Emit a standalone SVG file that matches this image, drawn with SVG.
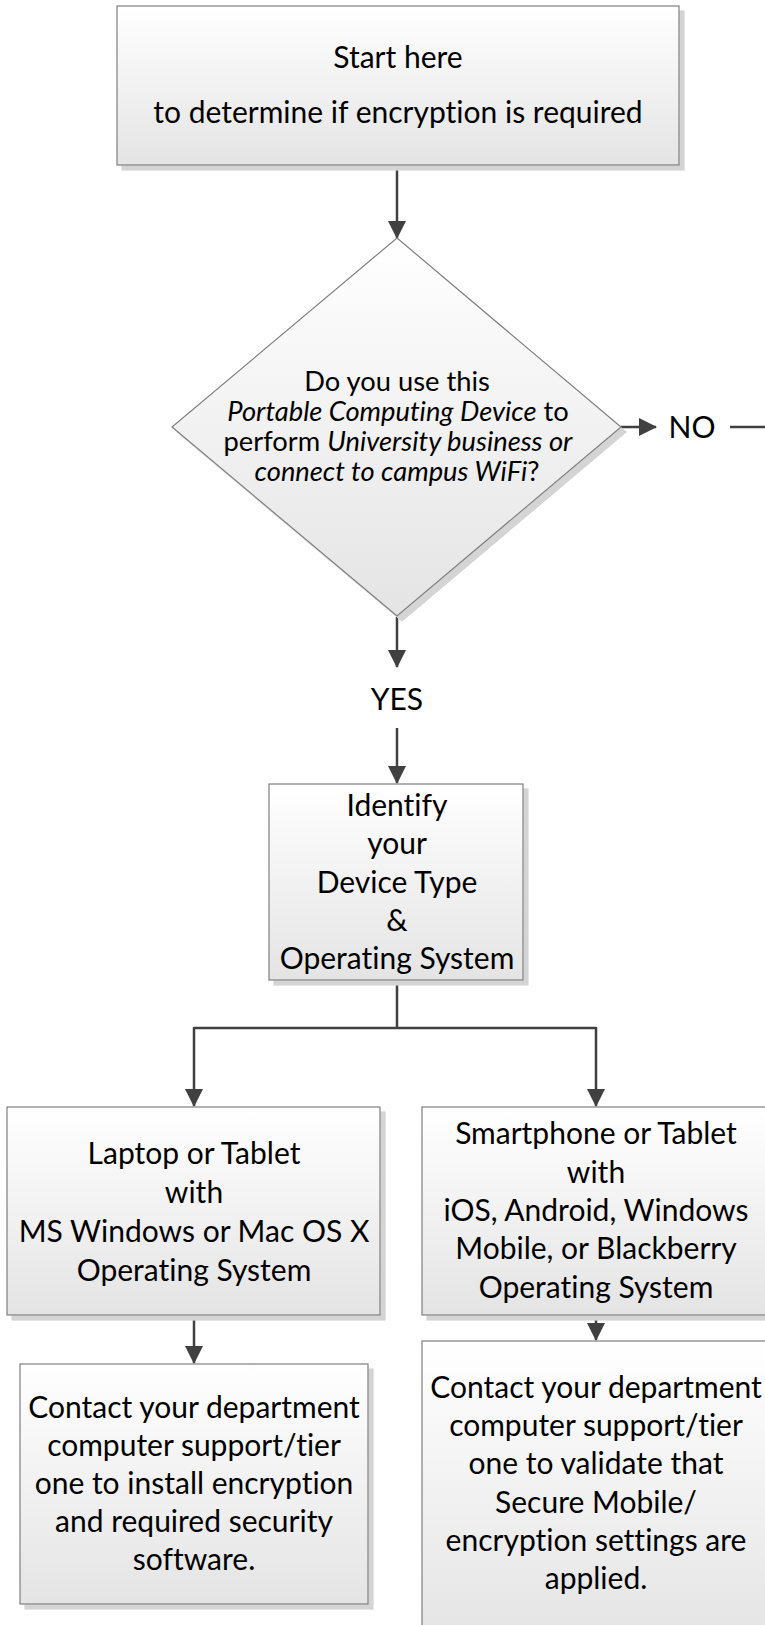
<svg xmlns="http://www.w3.org/2000/svg" width="765" height="1625" viewBox="0 0 765 1625">
<defs>
<linearGradient id="g" x1="0" y1="0" x2="0" y2="1">
<stop offset="0" stop-color="#ffffff"/>
<stop offset="1" stop-color="#e4e4e4"/>
</linearGradient>
<marker id="ah" viewBox="0 0 18 18" refX="17" refY="9" markerWidth="7.2" markerHeight="7.2" markerUnits="strokeWidth" orient="auto">
<path d="M0,0 L18,9 L0,18 Z" fill="#404040"/>
</marker>
<filter id="sh" x="-5%" y="-5%" width="115%" height="115%">
<feOffset dx="5" dy="5" in="SourceAlpha" result="o"/>
<feFlood flood-color="#d4d4d4"/>
<feComposite in2="o" operator="in" result="s"/>
<feMerge><feMergeNode in="s"/><feMergeNode in="SourceGraphic"/></feMerge>
</filter>
</defs>
<style>
.box{fill:url(#g);stroke:#7f7f7f;stroke-width:1.2;filter:url(#sh)}
.t{font-family:Lato,"Open Sans","Liberation Sans",sans-serif;font-size:30px;fill:#000;text-anchor:middle;font-variant-ligatures:none}
.d{font-size:27.3px}
.c{fill:none;stroke:#404040;stroke-width:2.5}
.arr{marker-end:url(#ah)}
</style>
<g id="connectors">
<path class="c arr" d="M397,166 V238"/>
<path class="c arr" d="M621,427 H656"/>
<path class="c" d="M730,427 H765"/>
<path class="c arr" d="M397,617 V667"/>
<path class="c arr" d="M397,728 V783"/>
<path class="c" d="M397,980 V1028 M194,1028 H596"/>
<path class="c arr" d="M194,1027 V1106"/>
<path class="c arr" d="M596,1027 V1106"/>
<path class="c arr" d="M194,1316 V1363"/>
<path class="c arr" d="M596,1316 V1340"/>
</g>
<g id="start">
<rect class="box" x="117" y="6" width="562" height="159"/>
<text class="t" x="398" y="68">Start here</text>
<text class="t" x="398" y="123">to determine if encryption is required</text>
</g>
<g id="decision">
<polygon class="box" points="397,238 621,427 397,616 172,427"/>
<text class="t d" x="397" y="391">Do you use this</text>
<text class="t d" x="398" y="421"><tspan font-style="italic">Portable Computing Device</tspan> to</text>
<text class="t d" x="398" y="451">perform <tspan font-style="italic">University business or</tspan></text>
<text class="t d" x="397" y="481"><tspan font-style="italic">connect to campus WiFi</tspan>?</text>
</g>
<g id="no-label">
<text class="t" x="692" y="438">NO</text>
</g>
<g id="yes-label">
<text class="t" x="397" y="710">YES</text>
</g>
<g id="identify">
<rect class="box" x="269" y="784" width="254" height="196"/>
<text class="t" x="397" y="816">Identify</text>
<text class="t" x="397" y="854">your</text>
<text class="t" x="397" y="893">Device Type</text>
<text class="t" x="397" y="931">&amp;</text>
<text class="t" x="397" y="969">Operating System</text>
</g>
<g id="laptop">
<rect class="box" x="7" y="1107" width="373" height="208"/>
<text class="t" x="194" y="1164">Laptop or Tablet</text>
<text class="t" x="194" y="1203">with</text>
<text class="t" x="194" y="1242">MS Windows or Mac OS X</text>
<text class="t" x="194" y="1281">Operating System</text>
</g>
<g id="smartphone">
<rect class="box" x="422" y="1107" width="360" height="208"/>
<text class="t" x="596" y="1144">Smartphone or Tablet</text>
<text class="t" x="596" y="1183">with</text>
<text class="t" x="596" y="1221">iOS, Android, Windows</text>
<text class="t" x="596" y="1259">Mobile, or Blackberry</text>
<text class="t" x="596" y="1298">Operating System</text>
</g>
<g id="laptop-action">
<rect class="box" x="20" y="1364" width="348" height="240"/>
<text class="t" x="194" y="1418">Contact your department</text>
<text class="t" x="194" y="1456">computer support/tier</text>
<text class="t" x="194" y="1494">one to install encryption</text>
<text class="t" x="194" y="1532">and required security</text>
<text class="t" x="194" y="1570">software.</text>
</g>
<g id="smartphone-action">
<rect class="box" x="422" y="1341" width="360" height="300"/>
<text class="t" x="596" y="1398">Contact your department</text>
<text class="t" x="596" y="1436">computer support/tier</text>
<text class="t" x="596" y="1474">one to validate that</text>
<text class="t" x="596" y="1513">Secure Mobile/</text>
<text class="t" x="596" y="1551">encryption settings are</text>
<text class="t" x="596" y="1589">applied.</text>
</g>
</svg>
